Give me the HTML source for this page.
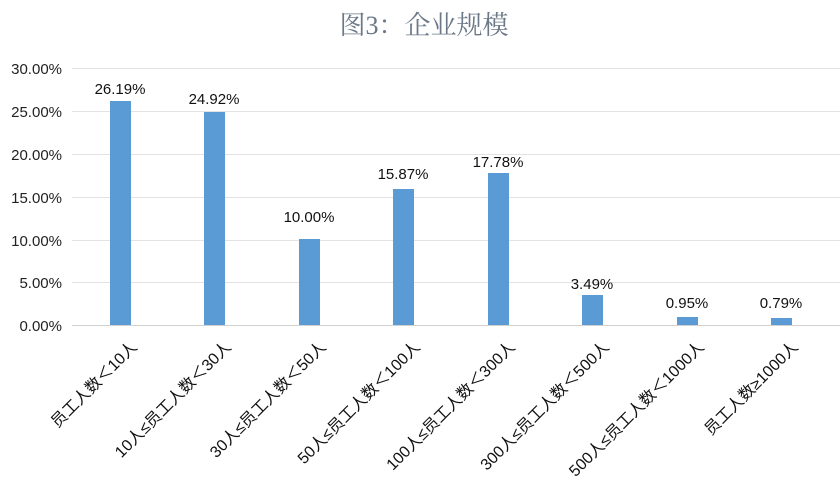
<!DOCTYPE html>
<html><head><meta charset="utf-8"><style>
body{margin:0;background:#fff;}
svg{display:block;}
</style></head><body>
<svg width="840" height="492" xmlns="http://www.w3.org/2000/svg">
<rect width="840" height="492" fill="#fff"/>
<text x="424" y="34" text-anchor="middle" font-family="'Liberation Serif','Noto Serif CJK SC',serif" font-size="26" fill="#6a7888">图3：企业规模</text>
<g stroke="#e3e3e3" stroke-width="1">
<line x1="72" x2="840" y1="68.5" y2="68.5"/>
<line x1="72" x2="840" y1="111.5" y2="111.5"/>
<line x1="72" x2="840" y1="154.5" y2="154.5"/>
<line x1="72" x2="840" y1="197.5" y2="197.5"/>
<line x1="72" x2="840" y1="240.5" y2="240.5"/>
<line x1="72" x2="840" y1="282.5" y2="282.5"/>
</g>
<line x1="72" x2="840" y1="325.5" y2="325.5" stroke="#d0d0d0"/>
<g font-family="'Liberation Sans',sans-serif" font-size="15" fill="#222" text-anchor="end">
<text x="62" y="74">30.00%</text>
<text x="62" y="117">25.00%</text>
<text x="62" y="160">20.00%</text>
<text x="62" y="203">15.00%</text>
<text x="62" y="246">10.00%</text>
<text x="62" y="288">5.00%</text>
<text x="62" y="331">0.00%</text>
</g>
<g fill="#5b9bd5">
<rect x="110" y="101" width="21" height="224"/>
<rect x="204" y="112" width="21" height="213"/>
<rect x="299" y="239" width="21" height="86"/>
<rect x="393" y="189" width="21" height="136"/>
<rect x="488" y="173" width="21" height="152"/>
<rect x="582" y="295" width="21" height="30"/>
<rect x="677" y="317" width="21" height="8"/>
<rect x="771" y="318" width="21" height="7"/>
</g>
<g font-family="'Liberation Sans',sans-serif" font-size="15" fill="#111" text-anchor="middle">
<text x="120" y="94">26.19%</text>
<text x="214" y="104">24.92%</text>
<text x="309" y="222">10.00%</text>
<text x="403" y="179">15.87%</text>
<text x="498" y="167">17.78%</text>
<text x="592" y="289">3.49%</text>
<text x="687" y="308">0.95%</text>
<text x="781" y="308">0.79%</text>
</g>
<g font-family="'Liberation Sans','Noto Sans CJK SC',sans-serif" font-size="16" fill="#111" text-anchor="end">
<text transform="translate(138,348) rotate(-45)">员工人数＜10人</text>
<text transform="translate(232,348) rotate(-45)">10人≤员工人数＜30人</text>
<text transform="translate(327,348) rotate(-45)">30人≤员工人数＜50人</text>
<text transform="translate(421,348) rotate(-45)">50人≤员工人数＜100人</text>
<text transform="translate(516,348) rotate(-45)">100人≤员工人数＜300人</text>
<text transform="translate(610,348) rotate(-45)">300人≤员工人数＜500人</text>
<text transform="translate(705,348) rotate(-45)">500人≤员工人数＜1000人</text>
<text transform="translate(799,348) rotate(-45)">员工人数≥1000人</text>
</g>
</svg>
</body></html>
